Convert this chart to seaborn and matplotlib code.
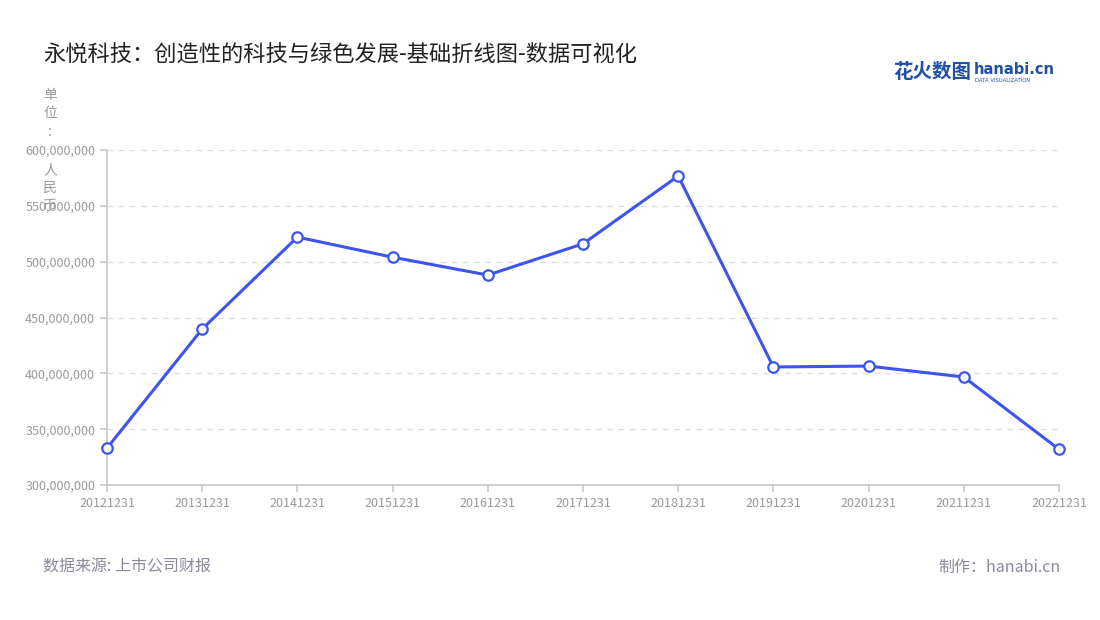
import matplotlib
matplotlib.use('Agg')
from matplotlib import pyplot as plt
from matplotlib.ticker import FuncFormatter
import pandas as pd
import seaborn as sns

years = ['20121231', '20131231', '20141231', '20151231', '20161231', '20171231',
         '20181231', '20191231', '20201231', '20211231', '20221231']
revenue = [333000000, 439700000, 522000000, 504000000, 488000000, 516000000,
           576700000, 405700000, 406500000, 396700000, 332000000]
y_ticks = [300000000, 350000000, 400000000, 450000000, 500000000, 550000000, 600000000]
unit_chars = ['单', '位', ':', '人', '民', '币']

df = pd.DataFrame({'year': years, 'revenue': revenue})
df['pos'] = range(len(years))

sns.set_theme(style='white')
plt.rcParams['font.family'] = ['Noto Sans CJK SC', 'DejaVu Sans']

fig = plt.figure(figsize=(11, 6.2), dpi=100)
ax = fig.add_axes([107 / 1100, 1 - 485 / 620, (1059 - 107) / 1100, (485 - 150) / 620])

sns.lineplot(data=df, x='pos', y='revenue', ax=ax, color='#3b55ee', linewidth=2.2,
             marker='o', markersize=7.5, markerfacecolor='white',
             markeredgecolor='#3b55ee', markeredgewidth=1.6, clip_on=False, zorder=5)

ax.set_xlim(0, len(years) - 1)
ax.set_ylim(300000000, 600000000)
ax.set_xticks(df['pos'])
ax.set_xticklabels(years)
ax.set_yticks(y_ticks)
ax.yaxis.set_major_formatter(FuncFormatter(lambda v, p: f'{int(v):,}'))
ax.set_xlabel('')
ax.set_ylabel('')

ax.grid(axis='y', color='#dddddd', linestyle=(0, (4, 4)), linewidth=1)
ax.grid(axis='x', visible=False)
for s in ['top', 'right']:
    ax.spines[s].set_visible(False)
for s in ['left', 'bottom']:
    ax.spines[s].set_color('#c8c8c8')
    ax.spines[s].set_linewidth(1.2)
ax.tick_params(axis='both', colors='#c8c8c8', labelcolor='#999999', labelsize=9,
               length=5, width=1.2, direction='out', left=True, bottom=True)

fig.text(43 / 1100, 1 - 55 / 620, '永悦科技：创造性的科技与绿色发展-基础折线图-数据可视化',
         fontsize=16, color='#222222', va='center', ha='left')

# vertical unit label, one character per row as in the original
unit_y = [95, 113, 132, 170, 188, 206]
for ch, yy in zip(unit_chars, unit_y):
    fig.text(50 / 1100, 1 - yy / 620, ch, fontsize=10, color='#999999',
             ha='center', va='center')

fig.text(893 / 1100, 1 - 72 / 620, '花火数图', fontsize=14, color='#1f4fa8',
         fontweight='bold', ha='left', va='center')
fig.text(974 / 1100, 1 - 69 / 620, 'hanabi.cn', fontsize=10.5, color='#1f4fa8',
         fontweight='bold', ha='left', va='center', family=['DejaVu Sans'])
fig.text(975 / 1100, 1 - 80 / 620, 'DATA VISUALIZATION', fontsize=3.8, color='#1f4fa8',
         ha='left', va='center', family=['DejaVu Sans'])

fig.text(43 / 1100, 1 - 567 / 620, '数据来源: 上市公司财报', fontsize=11.5, color='#8a8a9a',
         ha='left', va='center')
fig.text(1061 / 1100, 1 - 567 / 620, '制作：hanabi.cn', fontsize=11.5, color='#8a8a9a',
         ha='right', va='center')

fig.savefig('out.png', dpi=100, facecolor='white')
